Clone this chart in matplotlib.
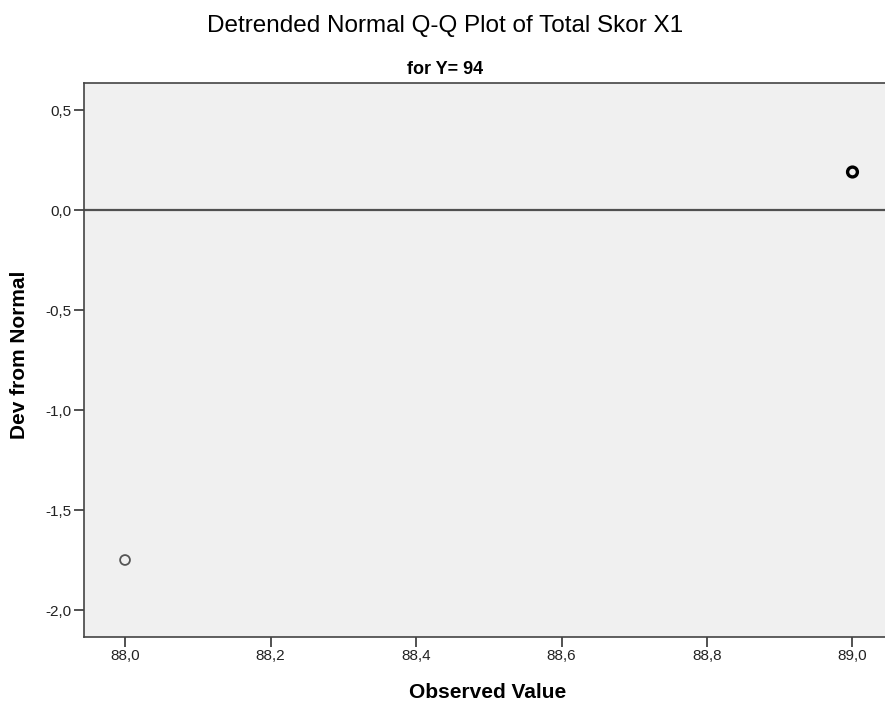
import matplotlib
matplotlib.use("Agg")
import matplotlib.pyplot as plt

# data
observed = [88.0, 89.0]
dev_from_normal = [-1.75, 0.19]
edge_colors = ["#555555", "#000000"]
edge_widths = [1.3, 2.4]

xticks = [88.0, 88.2, 88.4, 88.6, 88.8, 89.0]
yticks = [0.5, 0.0, -0.5, -1.0, -1.5, -2.0]

plt.rcParams['font.family'] = ['Liberation Sans', 'DejaVu Sans']

fig = plt.figure(figsize=(8.85, 7.17), dpi=100)
ax = fig.add_axes([84 / 885, 1 - 637 / 717, (885 - 84) / 885, (637 - 83) / 717])
ax.set_facecolor("#f0f0f0")

# reference line at zero
ax.axhline(0, color="#505050", linewidth=1.6, zorder=1)

for x, y, ec, lw in zip(observed, dev_from_normal, edge_colors, edge_widths):
    ax.scatter(x, y, s=50, facecolors="none", edgecolors=ec, linewidths=lw, zorder=3)

ax.set_xlim(87.9436, 89.0447)
ax.set_ylim(-2.135, 0.635)
ax.set_xticks(xticks)
ax.set_yticks(yticks)
ax.set_xticklabels([f"{t:.1f}".replace(".", ",") for t in xticks])
ax.set_yticklabels([f"{t:.1f}".replace(".", ",") for t in yticks])
ax.tick_params(direction="out", length=7, width=1.2, color="#333333",
               labelsize=11, labelcolor="#222222", pad=2)

for side in ["left", "bottom", "top"]:
    ax.spines[side].set_color("#444444")
    ax.spines[side].set_linewidth(1.2)
ax.spines["right"].set_visible(False)

ax.set_xlabel("Observed Value", fontsize=15, weight="bold", va="center")
ax.xaxis.set_label_coords((488 - 84) / 801, -(693 - 637) / 554)
ax.set_ylabel("Dev from Normal", fontsize=15, weight="bold", va="center")
ax.yaxis.set_label_coords((20 - 84) / 801, (637 - 355) / 554)

fig.text(445 / 885, 1 - 26 / 717, "Detrended Normal Q-Q Plot of Total Skor X1",
         ha="center", va="center", fontsize=17.5)
fig.text(445 / 885, 1 - 69 / 717, "for Y= 94", ha="center", va="center",
         fontsize=13, weight="bold")

fig.savefig("out.png", dpi=100)
